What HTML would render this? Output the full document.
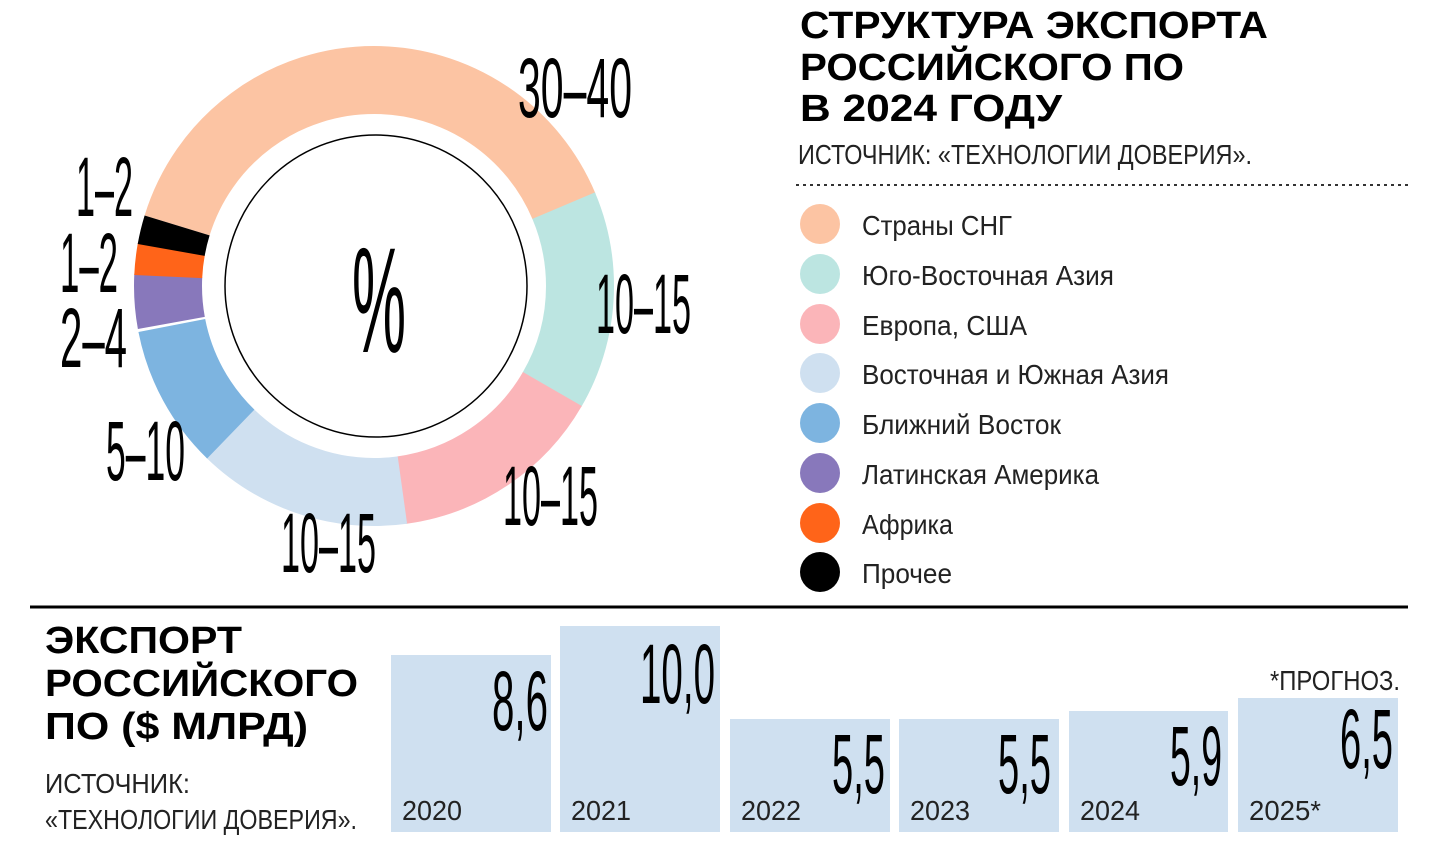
<!DOCTYPE html>
<html><head><meta charset="utf-8"><style>
html,body{margin:0;padding:0;background:#fff;width:1440px;height:841px;overflow:hidden}
text{font-family:"Liberation Sans","DejaVu Sans",sans-serif}
.c{font-size:84px;fill:#000}
.b{font-weight:bold;font-size:38px;fill:#000}
.l{font-size:28px;fill:#222}
</style></head><body>
<svg width="1440" height="841" viewBox="0 0 1440 841" xmlns="http://www.w3.org/2000/svg">
<g transform="rotate(-90 374 286)" fill="none" stroke-width="68">
<circle cx="374" cy="286" r="206" stroke="#fcc4a3" stroke-dasharray="263.5 2000" stroke-dashoffset="-1031.9"/>
<circle cx="374" cy="286" r="206" stroke="#fcc4a3" stroke-dasharray="241.9 2000" stroke-dashoffset="0"/>
<circle cx="374" cy="286" r="206" stroke="#bce5e1" stroke-dasharray="191.6 2000" stroke-dashoffset="-240.9"/>
<circle cx="374" cy="286" r="206" stroke="#fbb5b9" stroke-dasharray="188 2000" stroke-dashoffset="-431.4"/>
<circle cx="374" cy="286" r="206" stroke="#cfe0f0" stroke-dasharray="188 2000" stroke-dashoffset="-618.4"/>
<circle cx="374" cy="286" r="206" stroke="#7db4e0" stroke-dasharray="125.4 2000" stroke-dashoffset="-805.3"/>
<circle cx="374" cy="286" r="206" stroke="#8878bb" stroke-dasharray="47.7 2000" stroke-dashoffset="-933.3"/>
<circle cx="374" cy="286" r="206" stroke="#ff6419" stroke-dasharray="27.6 2000" stroke-dashoffset="-980"/>
<circle cx="374" cy="286" r="206" stroke="#000" stroke-dasharray="25.2 2000" stroke-dashoffset="-1006.7"/>
</g>
<circle cx="376" cy="286" r="151" fill="none" stroke="#000" stroke-width="1.5"/>
<text class="c" x="352" y="352" textLength="54" lengthAdjust="spacingAndGlyphs" style="font-size:150px">%</text>
<text class="c" x="518" y="117" textLength="114" lengthAdjust="spacingAndGlyphs">30–40</text>
<text class="c" x="596" y="333" textLength="95" lengthAdjust="spacingAndGlyphs">10–15</text>
<text class="c" x="503" y="525" textLength="95" lengthAdjust="spacingAndGlyphs">10–15</text>
<text class="c" x="281" y="572" textLength="95" lengthAdjust="spacingAndGlyphs">10–15</text>
<text class="c" x="106" y="480" textLength="79" lengthAdjust="spacingAndGlyphs">5–10</text>
<text class="c" x="60" y="367" textLength="67" lengthAdjust="spacingAndGlyphs">2–4</text>
<text class="c" x="60" y="292" textLength="58" lengthAdjust="spacingAndGlyphs">1–2</text>
<text class="c" x="76" y="216" textLength="57" lengthAdjust="spacingAndGlyphs">1–2</text>

<text class="b" x="800" y="38" textLength="468" lengthAdjust="spacingAndGlyphs">СТРУКТУРА ЭКСПОРТА</text>
<text class="b" x="800" y="80" textLength="384" lengthAdjust="spacingAndGlyphs">РОССИЙСКОГО ПО</text>
<text class="b" x="800" y="121" textLength="262" lengthAdjust="spacingAndGlyphs">В 2024 ГОДУ</text>
<text class="l" x="798" y="164" textLength="454" lengthAdjust="spacingAndGlyphs">ИСТОЧНИК: «ТЕХНОЛОГИИ ДОВЕРИЯ».</text>
<line x1="796" y1="185" x2="1408" y2="185" stroke="#333" stroke-width="2" stroke-dasharray="3 4"/>

<circle cx="820" cy="224" r="20" fill="#fcc4a3"/><text class="l" x="862" y="235" textLength="150" lengthAdjust="spacingAndGlyphs">Страны СНГ</text>
<circle cx="820" cy="274" r="20" fill="#bce5e1"/><text class="l" x="862" y="285" textLength="252" lengthAdjust="spacingAndGlyphs">Юго-Восточная Азия</text>
<circle cx="820" cy="324" r="20" fill="#fbb5b9"/><text class="l" x="862" y="335" textLength="165" lengthAdjust="spacingAndGlyphs">Европа, США</text>
<circle cx="820" cy="373" r="20" fill="#cfe0f0"/><text class="l" x="862" y="384" textLength="307" lengthAdjust="spacingAndGlyphs">Восточная и Южная Азия</text>
<circle cx="820" cy="423" r="20" fill="#7db4e0"/><text class="l" x="862" y="434" textLength="199" lengthAdjust="spacingAndGlyphs">Ближний Восток</text>
<circle cx="820" cy="473" r="20" fill="#8878bb"/><text class="l" x="862" y="484" textLength="237" lengthAdjust="spacingAndGlyphs">Латинская Америка</text>
<circle cx="820" cy="523" r="20" fill="#ff6419"/><text class="l" x="862" y="534" textLength="91" lengthAdjust="spacingAndGlyphs">Африка</text>
<circle cx="820" cy="572" r="20" fill="#000"/><text class="l" x="862" y="583" textLength="90" lengthAdjust="spacingAndGlyphs">Прочее</text>

<line x1="30" y1="607" x2="1408" y2="607" stroke="#000" stroke-width="3"/>

<text class="b" x="45" y="653" textLength="197" lengthAdjust="spacingAndGlyphs">ЭКСПОРТ</text>
<text class="b" x="45" y="696" textLength="313" lengthAdjust="spacingAndGlyphs">РОССИЙСКОГО</text>
<text class="b" x="45" y="739" textLength="263" lengthAdjust="spacingAndGlyphs">ПО ($ МЛРД)</text>
<text class="l" x="45" y="793" textLength="145" lengthAdjust="spacingAndGlyphs">ИСТОЧНИК:</text>
<text class="l" x="45" y="829" textLength="312" lengthAdjust="spacingAndGlyphs">«ТЕХНОЛОГИИ ДОВЕРИЯ».</text>

<g fill="#cfe0f0">
<rect x="391" y="655" width="160" height="177"/>
<rect x="560" y="626" width="160" height="206"/>
<rect x="730" y="719" width="160" height="113"/>
<rect x="899" y="719" width="160" height="113"/>
<rect x="1069" y="711" width="159" height="121"/>
<rect x="1238" y="698" width="160" height="134"/>
</g>
<text class="l" x="402" y="820" textLength="60" lengthAdjust="spacingAndGlyphs">2020</text>
<text class="l" x="571" y="820" textLength="60" lengthAdjust="spacingAndGlyphs">2021</text>
<text class="l" x="741" y="820" textLength="60" lengthAdjust="spacingAndGlyphs">2022</text>
<text class="l" x="910" y="820" textLength="60" lengthAdjust="spacingAndGlyphs">2023</text>
<text class="l" x="1080" y="820" textLength="60" lengthAdjust="spacingAndGlyphs">2024</text>
<text class="l" x="1249" y="820" textLength="72" lengthAdjust="spacingAndGlyphs">2025*</text>
<text class="c" x="492" y="730" textLength="56" lengthAdjust="spacingAndGlyphs">8,6</text>
<text class="c" x="640" y="703" textLength="75" lengthAdjust="spacingAndGlyphs">10,0</text>
<text class="c" x="832" y="793" textLength="53" lengthAdjust="spacingAndGlyphs">5,5</text>
<text class="c" x="998" y="793" textLength="53" lengthAdjust="spacingAndGlyphs">5,5</text>
<text class="c" x="1170" y="785" textLength="52" lengthAdjust="spacingAndGlyphs">5,9</text>
<text class="c" x="1340" y="768" textLength="53" lengthAdjust="spacingAndGlyphs">6,5</text>
<text class="l" x="1270" y="690" textLength="130" lengthAdjust="spacingAndGlyphs">*ПРОГНОЗ.</text>
</svg>
</body></html>
